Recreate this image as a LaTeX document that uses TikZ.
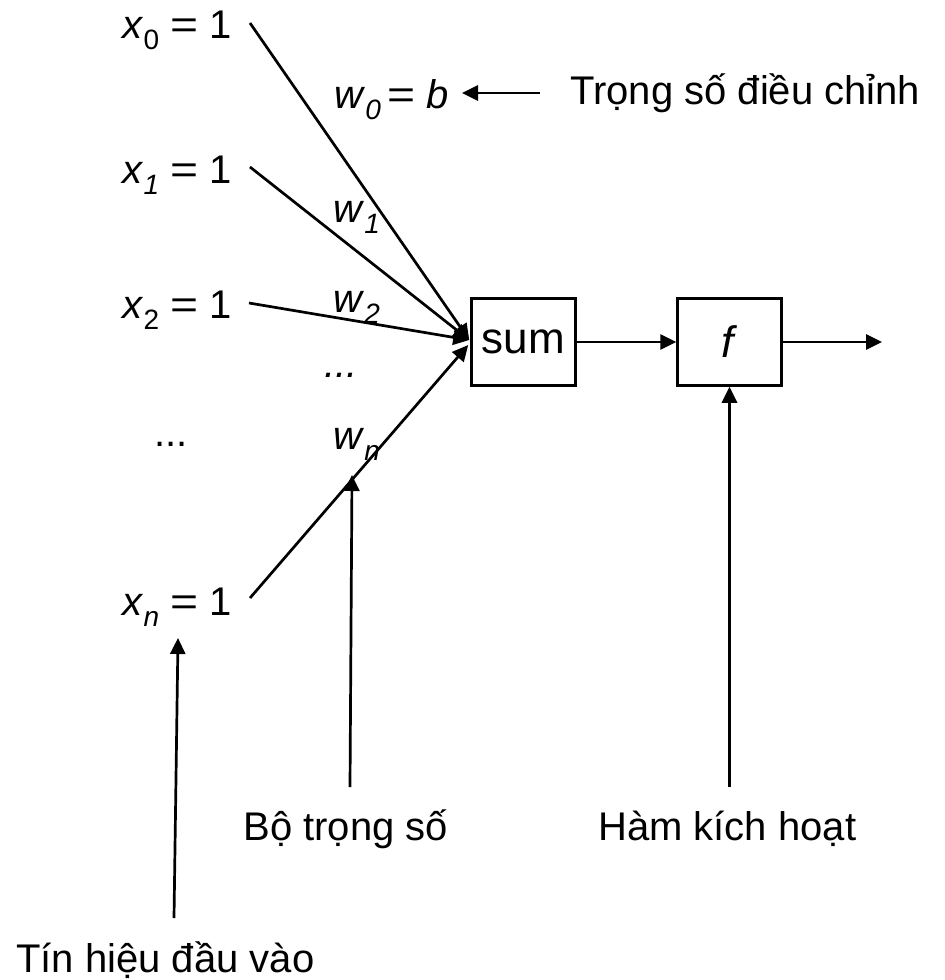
\documentclass[tikz,border=0pt]{standalone}
\usepackage{fontspec}
\setmainfont{Liberation Sans}
\usetikzlibrary{arrows.meta,calc}
\newcommand\lsub[1]{\raisebox{-0.28em}{\fontsize{28}{30}\selectfont #1}}
\newcommand\weq{\scalebox{1.2}[1]{=}}
\begin{document}
\begin{tikzpicture}[x=1pt,y=-1pt, line width=2.7pt,
  lbl/.style={inner sep=0pt, anchor=base west, font=\fontsize{40}{48}\selectfont},
  blk/.style={draw, line width=2.5pt, minimum width=104pt, minimum height=87pt, inner sep=0pt, font=\fontsize{44}{52}\selectfont},
  arr/.style={-{Triangle[length=16pt,width=15pt]}}]
\useasboundingbox (0,0) rectangle (945,980);
% blocks
\node[blk] (sum) at (523.5,342) {sum};
\node[blk] (f) at (729.5,342) {\textit{f}};
% input labels
\node[lbl] (x0) at (121,38) {\textit{x}\lsub{0} \weq{} 1};
\node[lbl] (x1) at (121,183) {\textit{x}\lsub{\textit{1}} \weq{} 1};
\node[lbl] (x2) at (121,318) {\textit{x}\lsub{2} \weq{} 1};
\node[lbl] (xn) at (121,615) {\textit{x}\lsub{\textit{n}} \weq{} 1};
\node[lbl] (dl) at (153,446) {...};
% weights
\node[lbl] (w0) at (333,108) {\textit{w}\lsub{\textit{0}}\,\weq{} \textit{b}};
\node[lbl] (w1) at (332,222) {\textit{w}\lsub{\textit{1}}};
\node[lbl] (w2) at (332,312) {\textit{w}\lsub{\textit{2}}};
\node[lbl] (dm) at (323,377) {\textit{...}};
\node[lbl] (wn) at (332,449) {\textit{w}\lsub{\textit{n}}};
% captions
\node[lbl] (tsdc) at (569,104) {Trọng số điều chỉnh};
\node[lbl] (bts) at (242,840) {Bộ trọng số};
\node[lbl] (hkh) at (597,840) {Hàm kích hoạt};
\node[lbl] (thdv) at (15,972) {Tín hiệu đầu vào};
% coordinates
\coordinate (s0) at (250,23);
\coordinate (s1) at (250,167);
\coordinate (s2) at (249,303);
\coordinate (sn) at (250,598);
\coordinate (tip) at ($(sum.west)+(-1,-2)$);
\coordinate (tipn) at ($(sum.west)+(-2,3)$);
\coordinate (out) at (882,342);
\coordinate (tsa) at (540,93);
\coordinate (tsb) at (462,93);
\coordinate (bta) at (350,787);
\coordinate (btb) at (352,475);
\coordinate (hka) at (729.5,787);
\coordinate (tha) at (174,918);
\coordinate (thb) at (178,638);
% connectors
\draw[arr] (s0) -- (tip);
\draw[arr] (s1) -- (tip);
\draw[arr] (s2) -- (tip);
\draw[arr] (sn) -- (tipn);
\draw[arr] (sum) -- (f);
\draw[arr] (f.east) -- (out);
\draw[arr] (tsa) -- (tsb);
\draw[arr] (bta) -- (btb);
\draw[arr] (hka) -- (f.south);
\draw[arr] (tha) -- (thb);
\end{tikzpicture}
\end{document}
